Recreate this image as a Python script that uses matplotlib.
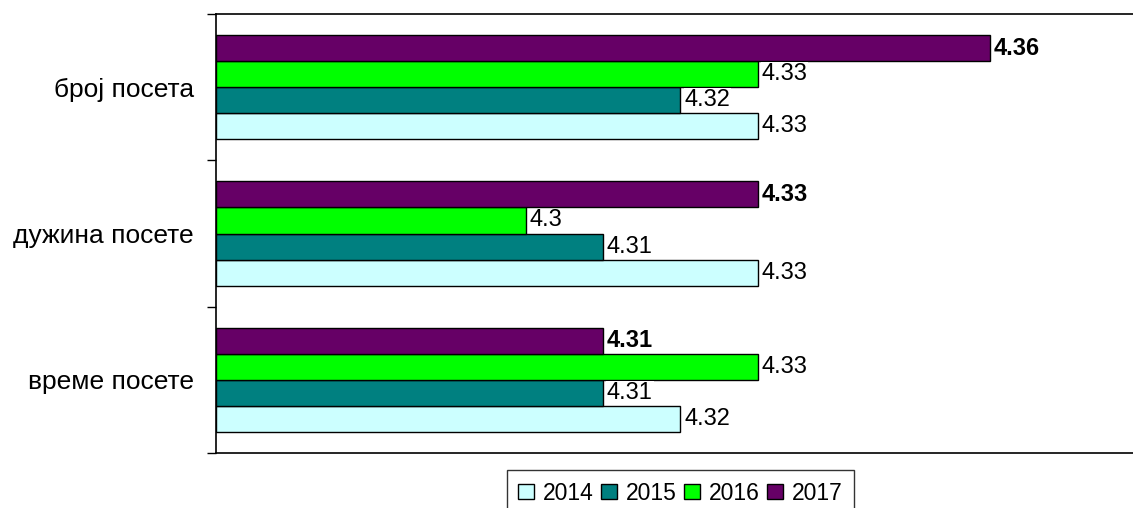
import numpy as np
import matplotlib
matplotlib.use("Agg")
import matplotlib.pyplot as plt

plt.rcParams['font.family'] = ['Liberation Sans', 'DejaVu Sans']

categories = ['број посета', 'дужина посете', 'време посете']
years = ['2014', '2015', '2016', '2017']
values = {
    '2014': [4.33, 4.33, 4.32],
    '2015': [4.32, 4.31, 4.31],
    '2016': [4.33, 4.30, 4.33],
    '2017': [4.36, 4.33, 4.31],
}
colors = ['#CCFFFF', '#008080', '#00FF00', '#660066']

fig = plt.figure(figsize=(11.33, 5.08), dpi=100)
ax = fig.add_axes([0.1906, 0.1083, 0.820, 0.8641])

xmin, xmax = 4.26, 4.38
bar_h = 0.178
y = np.arange(len(categories))[::-1].astype(float)

for i, (yr, col) in enumerate(zip(years, colors)):
    offs = (i - 1.5) * bar_h
    vals = values[yr]
    ax.barh(y + offs, np.array(vals) - xmin, left=xmin, height=bar_h,
            color=col, edgecolor='black', linewidth=1.0, label=yr)
    for yy, v in zip(y + offs, vals):
        ax.text(v + 0.0005, yy, f'{v:g}', va='center', ha='left', fontsize=17,
                fontweight='bold' if yr == '2017' else 'normal',
                bbox=dict(facecolor='white', edgecolor='none', pad=0.5))

ax.set_xlim(xmin, xmax)
ax.set_ylim(-0.5, 2.5)
ax.set_xticks([])
ax.set_yticks(y)
ax.set_yticklabels(categories, fontsize=19)
ax.tick_params(axis='y', which='major', length=0, pad=16)
ax.set_yticks([-0.5, 0.5, 1.5, 2.5], minor=True)
ax.tick_params(axis='y', which='minor', length=6.5, width=1.0, direction='out')
for s in ax.spines.values():
    s.set_linewidth(1.2)

leg = ax.legend(loc='upper center', bbox_to_anchor=(0.5, -0.039), ncol=4,
                fontsize=16.5, frameon=True, fancybox=False, edgecolor='black',
                handlelength=0.68, handleheight=0.68, handletextpad=0.4,
                columnspacing=0.32, borderpad=0.5, borderaxespad=0)
leg.get_frame().set_linewidth(1.0)

fig.savefig('out.png', dpi=100)
